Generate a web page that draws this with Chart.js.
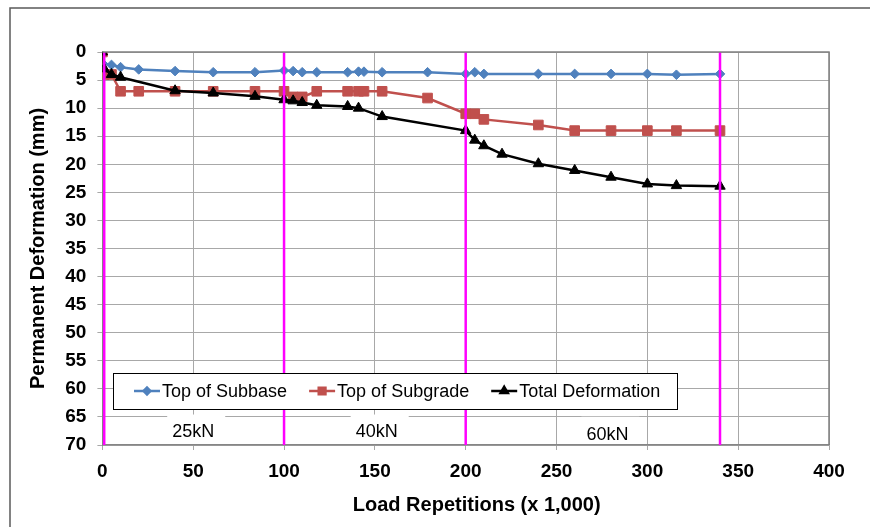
<!DOCTYPE html>
<html>
<head>
<meta charset="utf-8">
<script src="https://cdn.jsdelivr.net/npm/chart.js@4.4.1/dist/chart.umd.min.js"></script>
<style>
  html, body { margin: 0; padding: 0; background: #ffffff; }
  #wrap { width: 870px; height: 527px; position: relative; }
</style>
</head>
<body>
<div id="wrap"><canvas id="chart" width="870" height="527"></canvas></div>
<script>
// Load repetitions (x 1,000) and permanent deformation (mm) per measurement level
const subbaseX = [0, 5, 10, 20, 40, 61, 84, 100, 105, 110, 118, 135, 141, 144, 154, 179, 200, 205, 210, 240, 260, 280, 300, 316, 340];
const subbaseY = [2.0, 2.3, 2.7, 3.1, 3.4, 3.6, 3.6, 3.3, 3.4, 3.6, 3.6, 3.6, 3.5, 3.5, 3.6, 3.6, 3.9, 3.6, 3.9, 3.9, 3.9, 3.9, 3.9, 4.05, 3.9];

const subgradeX = [0, 1, 5, 10, 20, 40, 61, 84, 100, 105, 110, 118, 135, 141, 144, 154, 179, 200, 205, 210, 240, 260, 280, 300, 316, 340];
const subgradeY = [0, 4, 4, 7, 7, 7, 7, 7, 7, 8, 8, 7, 7, 7, 7, 7, 8.2, 11, 11, 12, 13, 14, 14, 14, 14, 14];

const totalX = [0, 1, 5, 10, 40, 61, 84, 100, 105, 110, 118, 135, 141, 154, 200, 205, 210, 220, 240, 260, 280, 300, 316, 340];
const totalY = [0, 3, 4, 4.5, 6.9, 7.3, 7.9, 8.5, 8.7, 9.0, 9.5, 9.7, 10.0, 11.5, 14.0, 15.7, 16.7, 18.2, 19.9, 21.1, 22.3, 23.5, 23.8, 23.9];

const seriesNames = ['Top of Subbase', 'Top of Subgrade', 'Total Deformation'];
const xAxisTitle = 'Load Repetitions (x 1,000)';
const yAxisTitle = 'Permanent Deformation (mm)';

// Load stage boundaries (x 1,000 repetitions) and stage names
const stageBoundaries = [1, 100, 200, 340];
const stageNames = ['25kN', '40kN', '60kN'];
const stageLabelX = [50, 151, 278];
const stageLabelY = [67.6, 67.6, 68.0];

const yAxisMin = 0, yAxisMax = 70, yAxisStep = 5;
const xAxisMin = 0, xAxisMax = 400, xAxisStep = 50;

const FONT = "'Liberation Sans', Arial, sans-serif";
const colors = ['#4F81BD', '#C0504D', '#000000'];
const markers = ['rectRot', 'rect', 'triangle'];
const markerRadius = [4.8, 6.8, 6];

const zip = (xs, ys) => xs.map((x, i) => ({ x: x, y: ys[i] }));

const dataSets = [];
// Stage boundary lines, drawn above the series
stageBoundaries.forEach(b => {
  dataSets.push({
    label: 'stage ' + b,
    data: [{ x: b, y: yAxisMin }, { x: b, y: yAxisMax }],
    showLine: true,
    borderColor: '#FF00FF',
    borderWidth: 2.5,
    pointRadius: 0,
    order: 0
  });
});
[[totalX, totalY], [subgradeX, subgradeY], [subbaseX, subbaseY]].forEach((s, k) => {
  const idx = 2 - k;
  dataSets.push({
    label: seriesNames[idx],
    data: zip(s[0], s[1]),
    showLine: true,
    borderColor: colors[idx],
    backgroundColor: colors[idx],
    borderWidth: 2.5,
    pointStyle: markers[idx],
    pointRadius: markerRadius[idx],
    pointBorderWidth: 1,
    pointBorderColor: colors[idx],
    order: 1 + k
  });
});

const decorations = {
  id: 'decorations',
  afterDraw(chart) {
    const ctx = chart.ctx;
    const ca = chart.chartArea;
    const xs = chart.scales.x, ys = chart.scales.y;
    ctx.save();

    // Plot frame (top and right edges)
    ctx.strokeStyle = '#808080';
    ctx.lineWidth = 1.5;
    ctx.beginPath();
    ctx.moveTo(ca.left, ca.top);
    ctx.lineTo(ca.right, ca.top);
    ctx.lineTo(ca.right, ca.bottom);
    ctx.stroke();

    // Horizontal axis title, centred on the whole chart
    ctx.fillStyle = '#000000';
    ctx.font = 'bold 20px ' + FONT;
    ctx.textAlign = 'center';
    ctx.textBaseline = 'middle';
    ctx.fillText(xAxisTitle, (ca.left + ca.right) / 2 + 11, 505);

    // Stage names with white backing
    ctx.font = '18px ' + FONT;
    stageNames.forEach((t, i) => {
      const px = xs.getPixelForValue(stageLabelX[i]);
      const py = ys.getPixelForValue(stageLabelY[i]);
      const w = ctx.measureText(t).width + 16;
      ctx.fillStyle = '#ffffff';
      ctx.fillRect(px - w / 2 + 3, py - 17, w, Math.min(ca.bottom - 1, py + 13) - (py - 17));
      ctx.fillStyle = '#000000';
      ctx.fillText(t, px, py + 1);
    });

    // Legend box inside the plot area
    const lx = ca.left + 10.6, ly = ca.top + 321, lw = 564, lh = 36;
    ctx.fillStyle = '#ffffff';
    ctx.fillRect(lx, ly, lw, lh);
    ctx.strokeStyle = '#000000';
    ctx.lineWidth = 1;
    ctx.strokeRect(lx + 0.5, ly + 0.5, lw, lh);
    ctx.textAlign = 'left';
    ctx.textBaseline = 'middle';
    ctx.font = '18px ' + FONT;
    let cx = lx + 21;
    const cy = ly + lh / 2;
    seriesNames.forEach((name, i) => {
      ctx.strokeStyle = colors[i];
      ctx.lineWidth = 2.5;
      ctx.beginPath();
      ctx.moveTo(cx, cy);
      ctx.lineTo(cx + 26, cy);
      ctx.stroke();
      ctx.fillStyle = colors[i];
      Chart.helpers.drawPoint(ctx, { pointStyle: markers[i], radius: markerRadius[i] * 0.7, borderWidth: 1 }, cx + 13, cy);
      ctx.fillStyle = '#000000';
      ctx.fillText(name, cx + 28, cy + 1);
      cx += 28 + ctx.measureText(name).width + 22;
    });

    // Outer chart border
    ctx.strokeStyle = '#595959';
    ctx.lineWidth = 1.5;
    ctx.strokeRect(10, 8, 880, 540);
    ctx.restore();
  }
};

new Chart(document.getElementById('chart'), {
  type: 'scatter',
  data: { datasets: dataSets },
  options: {
    responsive: false,
    animation: false,
    layout: { padding: { left: 26, top: 52, right: 41, bottom: 0 } },
    plugins: { legend: { display: false }, tooltip: { enabled: false } },
    scales: {
      x: {
        type: 'linear',
        min: xAxisMin, max: xAxisMax,
        afterFit(s) { s.height = 82; },
        ticks: { stepSize: xAxisStep, padding: 10, color: '#000', font: { family: FONT, size: 19, weight: 'bold' } },
        grid: { color: '#a8a8a8', lineWidth: 1, tickLength: 5 },
        border: { color: '#868686', width: 1.5 },
        title: { display: false }
      },
      y: {
        type: 'linear',
        reverse: true,
        min: yAxisMin, max: yAxisMax,
        afterFit(s) { s.width = 76.4; },
        ticks: { stepSize: yAxisStep, padding: 11, color: '#000', font: { family: FONT, size: 19, weight: 'bold' } },
        grid: { color: '#a8a8a8', lineWidth: 1, tickLength: 5 },
        border: { color: '#868686', width: 1.5 },
        title: { display: true, text: yAxisTitle, color: '#000', font: { family: FONT, size: 20, weight: 'bold' }, padding: 0 }
      }
    }
  },
  plugins: [decorations]
});
</script>
</body>
</html>
